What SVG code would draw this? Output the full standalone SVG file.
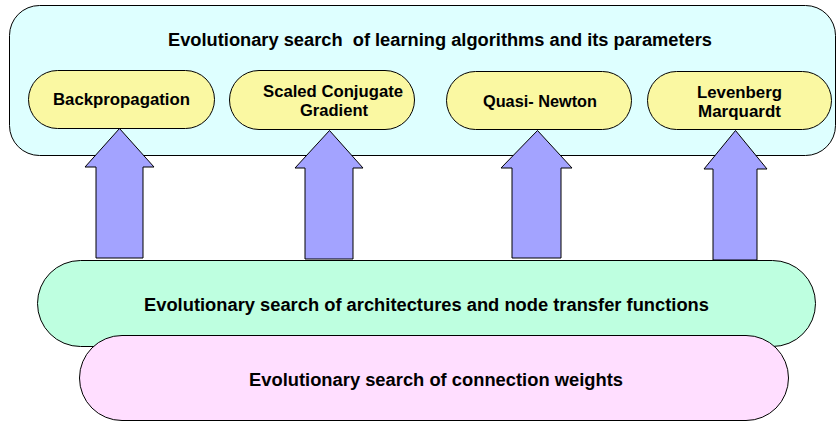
<svg xmlns="http://www.w3.org/2000/svg" width="838" height="421" viewBox="0 0 838 421">
<style>
.t{font-family:"Liberation Sans",Arial,sans-serif;font-weight:bold;fill:#000;text-anchor:middle}
.big{font-size:18px}
.sm{font-size:16px}
.pill{fill:#FAF8A2;stroke:#000;stroke-width:1}
.arr{fill:#A3A3FF;stroke:#000;stroke-width:1;stroke-linejoin:miter}
</style>
<rect width="838" height="421" fill="#fff"/>
<g id="top">
<rect x="9.5" y="5.5" width="826" height="150" rx="30" ry="30" fill="#DEFFFF" stroke="#000" stroke-width="1"/>
<text class="t big" x="440" y="46" textLength="544" lengthAdjust="spacingAndGlyphs" style="white-space:pre">Evolutionary search  of learning algorithms and its parameters</text>
</g>
<g id="backprop">
<rect class="pill" x="28.5" y="70.5" width="186" height="58" rx="29"/>
<text class="t sm" x="121.5" y="105" textLength="137" lengthAdjust="spacingAndGlyphs">Backpropagation</text>
</g>
<g id="scg">
<rect class="pill" x="229.5" y="70.5" width="185" height="59" rx="29.5"/>
<text class="t sm" x="333" y="97" textLength="140" lengthAdjust="spacingAndGlyphs">Scaled Conjugate</text>
<text class="t sm" x="334" y="116" textLength="68" lengthAdjust="spacingAndGlyphs">Gradient</text>
</g>
<g id="quasi">
<rect class="pill" x="446.5" y="71.5" width="185" height="58" rx="29"/>
<text class="t sm" x="540" y="107" textLength="114" lengthAdjust="spacingAndGlyphs">Quasi- Newton</text>
</g>
<g id="lev">
<rect class="pill" x="647.5" y="71.5" width="184" height="58" rx="29"/>
<text class="t sm" x="739.5" y="98" textLength="85" lengthAdjust="spacingAndGlyphs">Levenberg</text>
<text class="t sm" x="739.5" y="117" textLength="83" lengthAdjust="spacingAndGlyphs">Marquardt</text>
</g>
<g id="connectors">
<polygon class="arr" points="119.5,128.5 154,167 143,167 143,258 96,258 96,167 85,167"/>
<polygon class="arr" points="329.5,130.5 363,168 353,168 353,259 305,259 305,168 295,168"/>
<polygon class="arr" points="537.5,130.5 572,168 561,168 561,258 512,258 512,168 501,168"/>
<polygon class="arr" points="735.5,130.5 767,169 757,169 757,260 713,260 713,169 704,169"/>
</g>
<g id="arch">
<rect x="37.5" y="260.5" width="778" height="86" rx="43" fill="#BEFFE0" stroke="#000" stroke-width="1"/>
<text class="t big" x="426.5" y="311" textLength="565" lengthAdjust="spacingAndGlyphs">Evolutionary search of architectures and node transfer functions</text>
</g>
<g id="weights">
<rect x="79.5" y="335.5" width="709" height="85" rx="42.5" fill="#FFDEFF" stroke="#000" stroke-width="1"/>
<text class="t big" x="436" y="386" textLength="374" lengthAdjust="spacingAndGlyphs">Evolutionary search of connection weights</text>
</g>
</svg>
